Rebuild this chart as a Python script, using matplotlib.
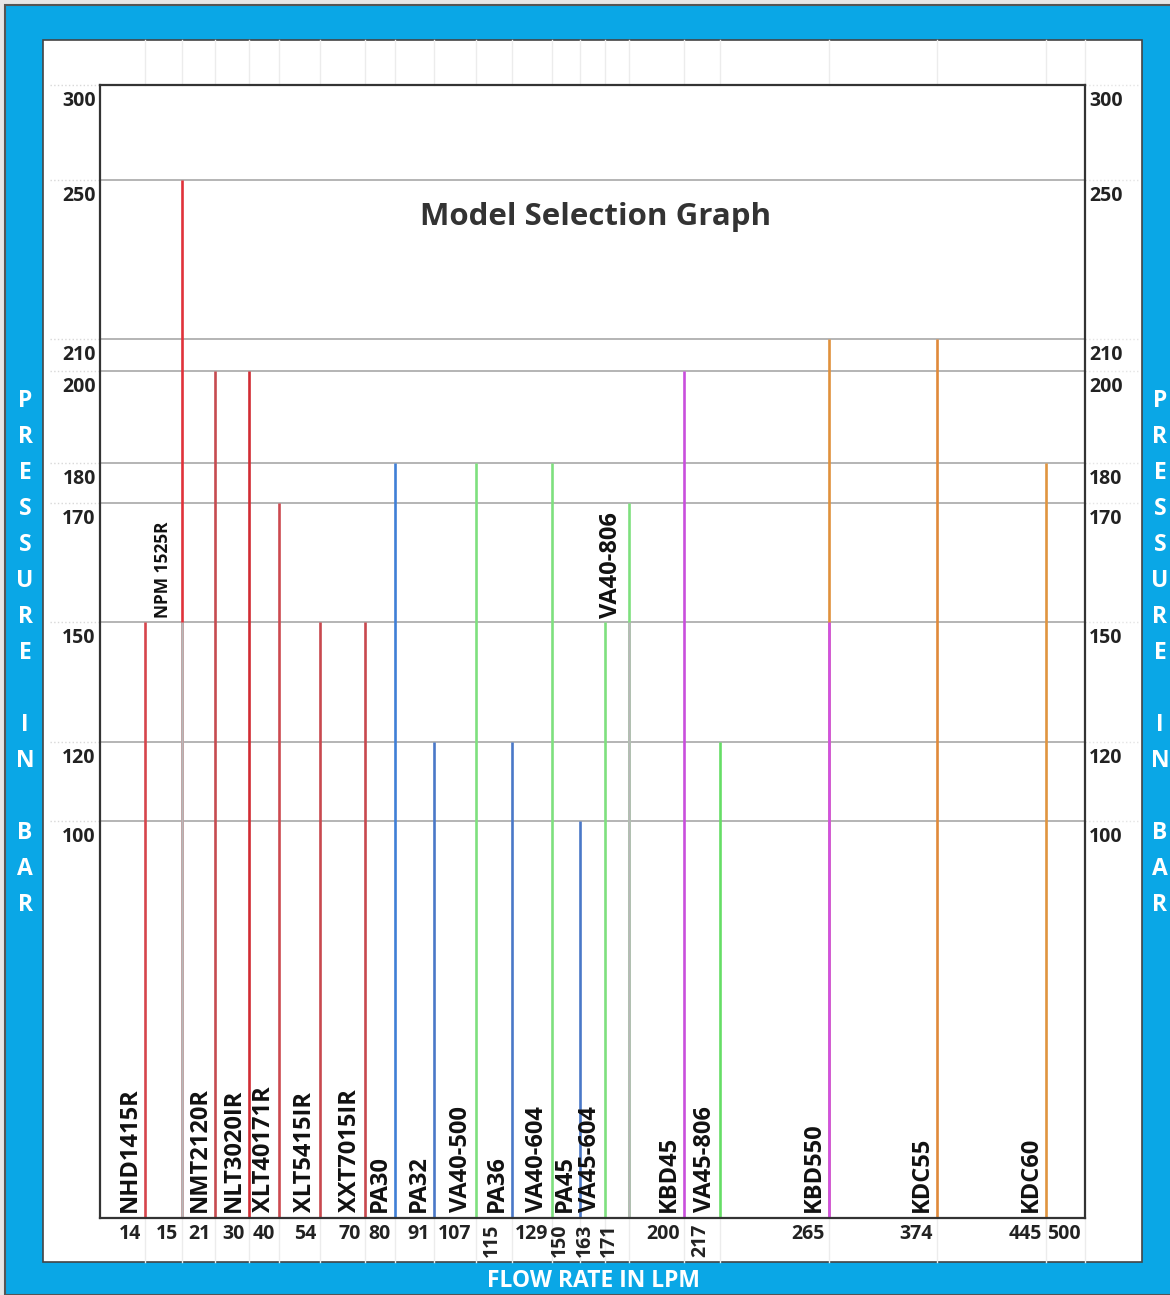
import numpy as np
import matplotlib
matplotlib.use('Agg')
import matplotlib.pyplot as plt
from matplotlib.patches import Rectangle
from matplotlib.transforms import ScaledTranslation

plt.rcParams['font.family'] = ['Open Sans', 'DejaVu Sans']
plt.rcParams['font.weight'] = 'bold'

# data
models = ['NHD1415R', 'NPM 1525R', 'NMT2120R', 'NLT3020IR', 'XLT40171R', 'XLT5415IR',
          'XXT7015IR', 'PA30', 'PA32', 'VA40-500', 'PA36', 'VA40-604', 'PA45',
          'VA45-604', 'VA40-806', 'KBD45', 'VA45-806', 'KBD550', 'KDC55', 'KDC60']
flows = [14, 15, 21, 30, 40, 54, 70, 80, 91, 107, 115, 129, 150, 163, 171, 200, 217, 265, 374, 445]
pressures = [150, 250, 200, 200, 170, 150, 150, 180, 120, 180, 120, 180, 100, 150, 170,
             200, 120, 210, 210, 180]
colors = ['#d6454c', '#e0323a', '#c64b50', '#d12c33', '#cc4a50', '#c8484e', '#c8484e',
          '#3f7fd6', '#4a78c8', '#7ee07e', '#4a78c8', '#7ee07e', '#4a78c8', '#7ee07e',
          '#7ee07e', '#c94fdc', '#66dd66', '#e0913c', '#e08a3a', '#e0953f']
# models whose line below 150 bar is drawn in another colour
lower_part = {'NPM 1525R': '#b8b8b8', 'VA40-806': '#b8b8b8', 'KBD550': '#d050e8'}
split_p = 150

x_ticks = flows + [500]
rot_ticks = [115, 150, 163, 171, 217]
y_ticks = [100, 120, 150, 170, 180, 200, 210, 250, 300]

# uneven axes, as on the original sheet
x_pts = [0] + x_ticks
x_pix = [0, 45, 82, 115, 149, 179, 220, 265, 295, 334, 376, 412, 452, 480, 505, 529,
         584, 620, 729, 837, 946, 985]
y_pts = [0] + y_ticks
y_pix = [0, 397, 476, 596, 715, 755, 847, 879, 1038, 1133]

def fx(v):
    return np.interp(v, x_pts, x_pix)

def ifx(v):
    return np.interp(v, x_pix, x_pts)

def fy(v):
    return np.interp(v, y_pts, y_pix)

def ify(v):
    return np.interp(v, y_pix, y_pts)

W, H = 1170, 1295
fig = plt.figure(figsize=(W / 100, H / 100), dpi=100, facecolor='#e6e6e6')
fig.patches.append(Rectangle((5 / W, 0), 1, 1 - 5 / H, transform=fig.transFigure,
                             facecolor='#0aa7e6', edgecolor='#555555', lw=1.5, zorder=-2))
fig.patches.append(Rectangle((43 / W, 1 - 1262 / H), (1142 - 43) / W, (1262 - 40) / H,
                             transform=fig.transFigure, facecolor='white',
                             edgecolor='#444444', lw=1.2, zorder=-1))

ax = fig.add_axes([100 / W, 1 - 1218 / H, 985 / W, 1133 / H])
ax.set_xscale('function', functions=(fx, ifx))
ax.set_yscale('function', functions=(fy, ify))
ax.set_xlim(0, 500)
ax.set_ylim(0, 300)

for s in ax.spines.values():
    s.set_color('#333333')
    s.set_linewidth(1.6)
    s.set_zorder(5)

# horizontal grid
ax.set_yticks(y_ticks)
ax.set_yticklabels([str(v) for v in y_ticks])
ax.tick_params(axis='y', length=0, pad=3, labelsize=14, labelcolor='#222222',
               labelright=True)
shift = ScaledTranslation(0, -6 / 100, fig.dpi_scale_trans)
for lab in ax.get_yticklabels() + ax.get_yticklabels(which='major'):
    lab.set_va('top')
for t in ax.yaxis.get_major_ticks():
    t.label1.set_transform(t.label1.get_transform() + shift)
    t.label2.set_transform(t.label2.get_transform() + shift)
    t.label1.set_va('top')
    t.label2.set_va('top')
for v in y_ticks:
    ax.axhline(v, color='#a8a8a8', lw=1.2, zorder=1)
    ax.plot([-50 / 985, 0], [v, v], transform=ax.get_yaxis_transform(),
            color='#d8d8d8', lw=1, ls=':', clip_on=False)
    ax.plot([1, 1 + 55 / 985], [v, v], transform=ax.get_yaxis_transform(),
            color='#e4e4e4', lw=1, ls=':', clip_on=False)

ax.set_xticks([])

# faint sheet cell lines above and below the plot
for v in x_ticks:
    ax.plot([v, v], [1, 1 + 45 / 1133], transform=ax.get_xaxis_transform(),
            color='#ececec', lw=1, clip_on=False)
    ax.plot([v, v], [-44 / 1133, 0], transform=ax.get_xaxis_transform(),
            color='#ececec', lw=1, clip_on=False)

# model lines
for m, f, p, c in zip(models, flows, pressures, colors):
    ax.vlines(f, 0, p, color=c, lw=1.9, zorder=3)
    if m in lower_part:
        ax.vlines(f, 0, split_p, color=lower_part[m], lw=1.9, zorder=3)

# model names
for m, f in zip(models, flows):
    if m == 'NPM 1525R':
        ax.annotate(m, (f, split_p), xytext=(-7, 3), textcoords='offset points',
                    rotation=90, ha='right', va='bottom', fontsize=12.5,
                    color='#111111')
    elif m == 'VA40-806':
        ax.annotate(m, (f, split_p), xytext=(-4, 3), textcoords='offset points',
                    rotation=90, ha='right', va='bottom', fontsize=17,
                    color='#111111')
    else:
        ax.annotate(m, (f, 0), xytext=(-2, 4), textcoords='offset points',
                    rotation=90, ha='right', va='bottom', fontsize=17,
                    color='#111111', xycoords=('data', 'axes fraction'))

# flow rate labels
for v in x_ticks:
    if v in rot_ticks:
        ax.annotate(str(v), (v, 0), xytext=(-7, -4), textcoords='offset points',
                    rotation=90, ha='right', va='top', fontsize=14,
                    color='#222222', xycoords=('data', 'axes fraction'))
    else:
        ax.annotate(str(v), (v, 0), xytext=(-3, -4), textcoords='offset points',
                    ha='right', va='top', fontsize=14, color='#222222',
                    xycoords=('data', 'axes fraction'))

fig.text(596 / W, 1 - 217 / H, 'Model Selection Graph', ha='center', va='center',
         fontsize=22.5, color='#333333')

# side and bottom captions
side = 'PRESSURE IN BAR'
for i, ch in enumerate(side):
    yy = 1 - (401 + 36 * i) / H
    fig.text(25 / W, yy, ch, ha='center', va='center', fontsize=16.5, color='white')
    fig.text(1160 / W, yy, ch, ha='center', va='center', fontsize=16.5, color='white')
fig.text(593 / W, 1 - 1281 / H, 'FLOW RATE IN LPM', ha='center', va='center',
         fontsize=16.5, color='white')

fig.savefig('out.png', dpi=100, facecolor=fig.get_facecolor())
